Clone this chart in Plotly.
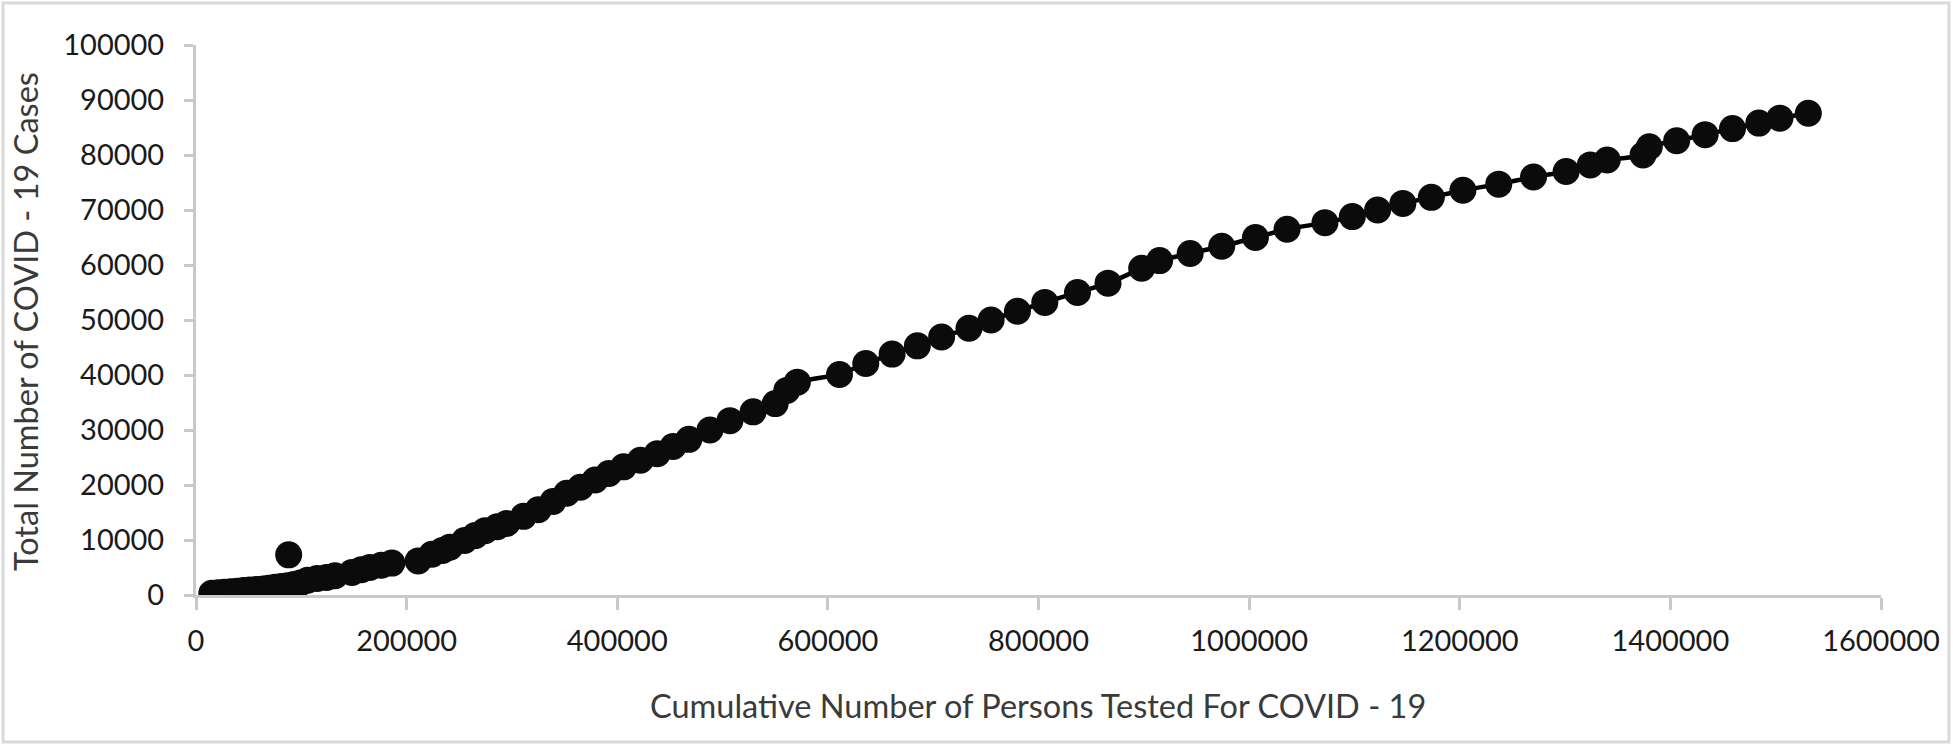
import plotly.graph_objects as go

# Cumulative persons tested (x) and total COVID-19 cases (y)
tested = [15000, 21000, 27000, 33000, 39000, 45000, 51000, 57000, 63000, 69000,
          75000, 81000, 87000, 93000, 99000, 106000, 115000, 124000, 132000, 148000,
          157000, 165000, 176000, 186000, 211000, 224000, 234000, 241000, 255000, 265000,
          274500, 286000, 295000, 311000, 325000, 339000, 352000, 365000, 379000, 392000,
          406000, 422000, 438000, 453000, 468000, 488000, 507000, 529000, 550000, 561000,
          571000, 611000, 636000, 661000, 685000, 708000, 734000, 755000, 780000, 806000,
          837000, 866000, 898000, 915000, 944000, 974000, 1006000, 1036000, 1072000, 1098000,
          1122000, 1146000, 1173000, 1203000, 1237000, 1270000, 1301000, 1324000, 1340000, 1374000,
          1380000, 1406000, 1433000, 1459000, 1484000, 1504000, 1531000]
cases = [300, 400, 500, 600, 700, 800, 900, 1000, 1100, 1250,
         1400, 1550, 1700, 1900, 2200, 2700, 3000, 3200, 3500, 4100,
         4600, 5000, 5400, 5800, 6200, 7400, 8100, 8700, 9900, 10800,
         11700, 12400, 13000, 14300, 15500, 17000, 18500, 19600, 20900, 22100,
         23300, 24500, 25700, 27000, 28300, 30000, 31700, 33300, 34800, 37200,
         38700, 40100, 42100, 43800, 45300, 46900, 48500, 50000, 51600, 53200,
         55000, 56700, 59400, 60800, 62100, 63400, 65000, 66500, 67700, 68800,
         70000, 71200, 72300, 73600, 74700, 76000, 77000, 78200, 79100, 80000,
         81500, 82600, 83700, 84800, 85800, 86700, 87600]

# Isolated point above the curve
outlier_tested = [88000]
outlier_cases = [7300]

x_ticks = [0, 200000, 400000, 600000, 800000, 1000000, 1200000, 1400000, 1600000]
y_ticks = [0, 10000, 20000, 30000, 40000, 50000, 60000, 70000, 80000, 90000, 100000]

x_title = "Cumulative Number of Persons Tested For COVID - 19"
y_title = "Total Number of COVID - 19 Cases"

W, H = 1953, 746
ML, MR, MT, MB = 196, 72, 45, 151
PW, PH = W - ML - MR, H - MT - MB

def px(xp):
    return (xp - ML) / PW

def py(yp):
    return (H - MB - yp) / PH

FONT = "Lato"
mark_color = "#0b0b0b"

fig = go.Figure()
fig.add_trace(go.Scatter(
    x=tested, y=cases, mode="lines+markers",
    line=dict(color="#000000", width=4.5, shape="spline", smoothing=0.6),
    marker=dict(color=mark_color, size=27, line=dict(width=0)),
    showlegend=False, hoverinfo="x+y"))
fig.add_trace(go.Scatter(
    x=outlier_tested, y=outlier_cases, mode="markers",
    marker=dict(color=mark_color, size=27, line=dict(width=0)),
    showlegend=False, hoverinfo="x+y"))

axis_col = "#c9c9c9"
fig.update_xaxes(
    range=[0, 1600000], tickvals=x_ticks, ticktext=[str(v) for v in x_ticks],
    showgrid=False, zeroline=False, showline=True, linecolor=axis_col, linewidth=3,
    ticks="outside", ticklen=12, tickwidth=3, tickcolor=axis_col,
    tickfont=dict(family=FONT, size=29, color="#1a1a1a"), ticklabelstandoff=6)
fig.update_yaxes(
    range=[0, 100000], tickvals=y_ticks, ticktext=[str(v) for v in y_ticks],
    showgrid=False, zeroline=False, showline=True, linecolor=axis_col, linewidth=3,
    ticks="outside", ticklen=9, tickwidth=3, tickcolor=axis_col,
    tickfont=dict(family=FONT, size=29, color="#1a1a1a"), ticklabelstandoff=14)

fig.add_annotation(text=x_title, xref="paper", yref="paper", x=px(1038), y=py(705),
                   xanchor="center", yanchor="middle", showarrow=False,
                   font=dict(family=FONT, size=32.5, color="#3a3a3a"))
fig.add_annotation(text=y_title, xref="paper", yref="paper", x=px(25), y=py(322),
                   xanchor="center", yanchor="middle", showarrow=False, textangle=-90,
                   font=dict(family=FONT, size=32.5, color="#3a3a3a"))

fig.add_shape(type="rect", xref="paper", yref="paper",
              x0=px(3), x1=px(W - 4), y0=py(H - 4), y1=py(3),
              line=dict(color="#d9d9d9", width=3), fillcolor="rgba(0,0,0,0)", layer="below")

fig.update_layout(
    width=W, height=H, margin=dict(l=ML, r=MR, t=MT, b=MB, pad=0),
    paper_bgcolor="white", plot_bgcolor="white",
    font=dict(family=FONT))

fig.write_html("out.html", config={"displayModeBar": False},
               post_script="document.body.style.margin='0';document.body.style.overflow='hidden';")
